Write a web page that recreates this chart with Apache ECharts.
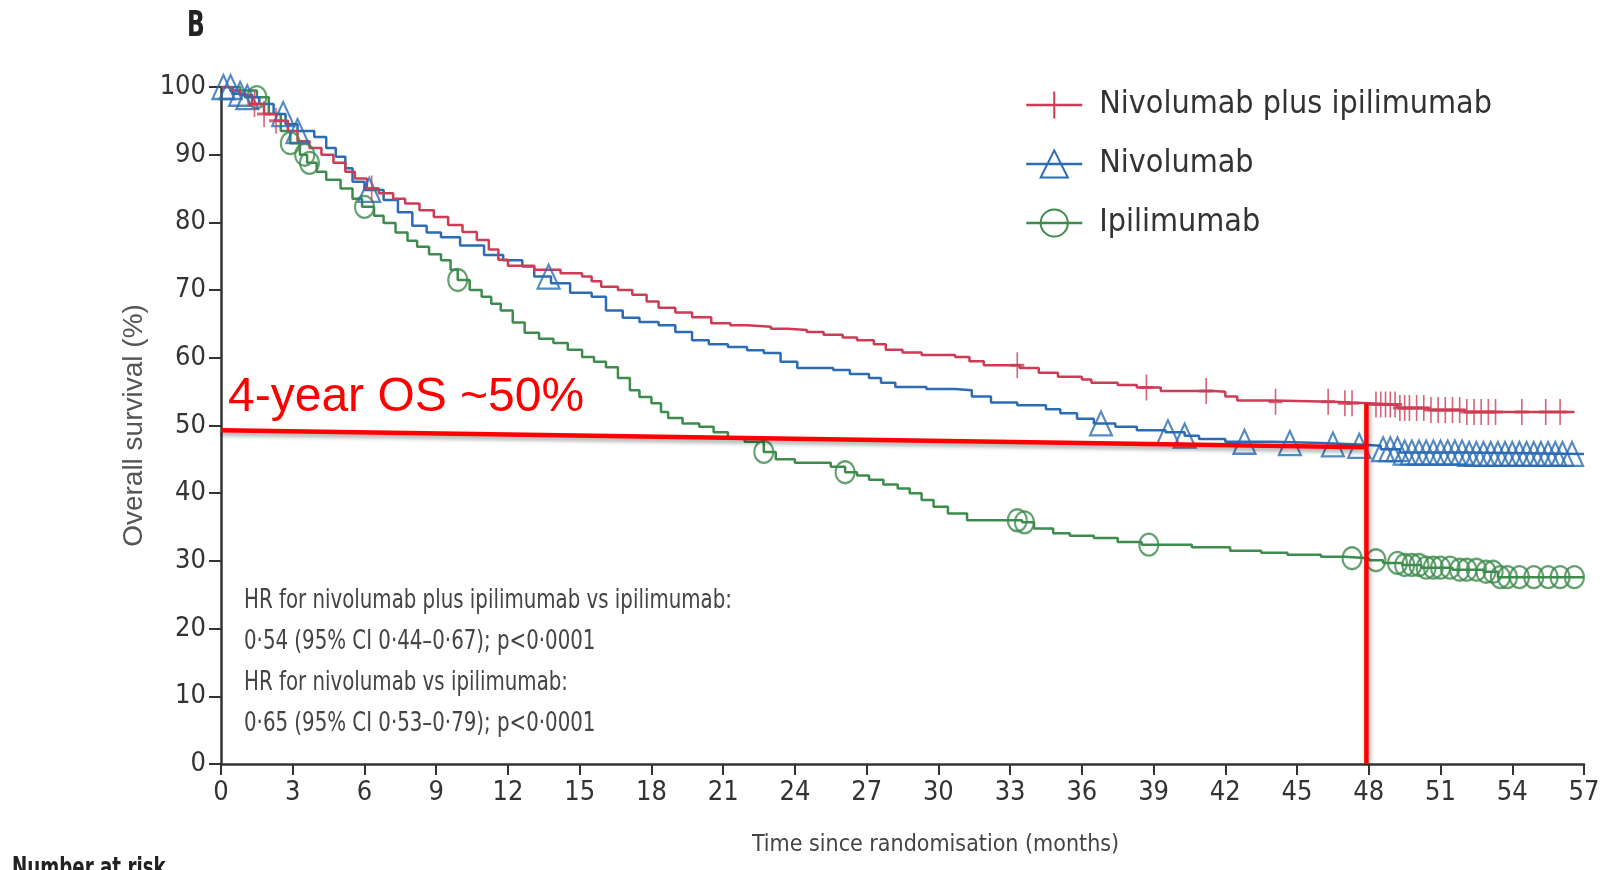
<!DOCTYPE html>
<html>
<head>
<meta charset="utf-8">
<script src="https://cdn.jsdelivr.net/npm/echarts@6/dist/echarts.min.js"></script>
<style>
  html, body { margin: 0; padding: 0; background: #fff; }
  #chart { width: 1608px; height: 870px; }
</style>
</head>
<body>
<div id="chart"></div>
<script>
// 生存曲线数据 [月, %]
const nivoIpi = [
  [0, 100], [0.4, 99.5], [0.8, 98.8], [1.3, 97.5], [1.8, 96], [2.3, 95], [2.8, 93.5], [3.2, 92],
  [3.7, 91], [4.2, 90], [4.7, 88.8], [5.2, 87.5], [5.6, 86.5], [6.1, 85], [6.6, 84.3], [7.2, 83.5],
  [7.7, 82.8], [8.3, 81.8], [8.9, 80.8], [9.5, 79.6], [10.1, 78.6], [10.7, 77.4], [11.2, 76],
  [11.6, 74.5], [12, 73.6], [13.1, 73], [14.2, 72.5], [15.1, 72], [15.5, 71.3], [15.9, 70.5],
  [16.6, 70], [17.2, 69.3], [17.8, 68.3], [18.3, 67.4], [19, 66.7], [19.7, 66], [20.5, 65.1],
  [21.3, 64.8], [22, 64.6], [23, 64.3], [23.7, 64.1], [24.5, 63.8], [25.2, 63.4], [26, 63],
  [26.6, 62.6], [27.3, 62], [27.8, 61.2], [28.5, 60.8], [29.3, 60.4], [30.7, 60.1], [31.3, 59.5],
  [31.9, 58.9], [33.4, 58.5], [34.2, 57.8], [35, 57.2], [36, 56.8], [36.4, 56.3], [37.5, 56],
  [38.3, 55.6], [39.3, 55.1], [41.5, 55], [42, 54.3], [42.5, 53.7], [44, 53.5], [46.5, 53.3],
  [48, 53.1], [49.2, 52.6], [50.5, 52.3], [52, 52], [56.6, 52]
];
const nivo = [
  [0, 100], [0.5, 99], [1, 98.5], [1.6, 97.5], [2.2, 96], [2.7, 94.5], [3.2, 93.5], [3.9, 92.6],
  [4.4, 91], [4.8, 89.7], [5.2, 88], [5.5, 86], [6, 84.8], [6.8, 83.3], [7.4, 81.5], [8, 79.5],
  [8.6, 78.5], [9.2, 77.8], [10, 76.6], [11, 75.2], [11.8, 74.4], [12.6, 73.5], [13.1, 72],
  [13.8, 71], [14.6, 69.6], [15.5, 69], [16.1, 67], [16.8, 65.9], [17.5, 65.3], [18.3, 64.8],
  [19, 63.8], [19.7, 62.6], [20.4, 62], [21.2, 61.6], [22, 61.1], [22.7, 60.7], [23.4, 59.4],
  [24.1, 58.5], [25.6, 58.2], [26.3, 57.6], [27.1, 57], [27.6, 56.3], [28.2, 55.7], [29.5, 55.4],
  [30.7, 55.2], [31.4, 54.3], [32.2, 53.4], [33.3, 53], [34.5, 52.4], [35.1, 51.8], [35.8, 51],
  [36.5, 50.3], [37.4, 49.8], [38.3, 49.3], [39.5, 49], [40.3, 48.5], [40.9, 48], [42, 47.6],
  [44, 47.4], [46, 47.2], [47.6, 47], [48.5, 46.5], [49.3, 46], [52, 45.8], [57, 45.8]
];
const ipi = [
  [0, 100], [0.8, 99.5], [1.5, 98.5], [2, 96], [2.5, 93.5], [2.9, 91.7], [3.3, 90], [3.6, 88.8],
  [4, 87.5], [4.4, 86.3], [5, 85], [5.5, 83.5], [5.9, 82.3], [6.4, 81], [6.8, 79.9], [7.3, 78.5],
  [7.8, 77.3], [8.2, 76.4], [8.7, 75.3], [9.2, 74.4], [9.6, 73], [9.9, 71.5], [10.4, 70],
  [10.9, 69], [11.3, 68], [11.7, 67], [12.2, 65.2], [12.7, 63.7], [13.3, 62.8], [13.9, 62.2],
  [14.5, 61.2], [15.1, 60.1], [15.6, 59.4], [16.1, 58.6], [16.6, 57], [17.1, 55.2], [17.5, 54.2],
  [18, 53.3], [18.4, 52], [18.7, 51.1], [19.3, 50.3], [20, 49.8], [20.6, 49], [21.2, 48.2],
  [21.9, 47.6], [22.7, 46.1], [23.2, 45], [24, 44.5], [25.5, 43.9], [26.1, 43.1], [26.6, 42.6],
  [27.1, 42], [27.7, 41.3], [28.3, 40.7], [28.8, 40], [29.3, 39], [29.8, 38], [30.4, 37],
  [31.2, 36], [33.5, 35.7], [34, 34.8], [34.8, 34.1], [35.5, 33.7], [36.5, 33.4], [37.5, 32.8],
  [38.5, 32.4], [40.6, 32], [42.2, 31.5], [43.5, 31.2], [44.6, 30.9], [46, 30.6], [47, 30.4],
  [48, 30.1], [48.6, 29.7], [49.4, 29.4], [50.2, 29], [51.5, 28.7], [52.8, 28.4], [53.4, 27.6],
  [57, 27.5]
];

// 删失时间（月）
const nivoIpiCensor = [1.4, 1.8, 2.3, 6.3, 33.3, 38.7, 41.2, 44.1, 46.3, 47.0, 47.3, 48.3, 48.5,
  48.7, 48.9, 49.1, 49.3, 49.5, 49.7, 50.0, 50.3, 50.6, 50.9, 51.2, 51.5, 51.8, 52.1, 52.4, 52.7,
  53.0, 53.3, 54.4, 55.4, 56.0];
const nivoCensor = [0.1, 0.4, 0.8, 1.1, 2.6, 3.2, 6.2, 13.7, 36.8, 39.6, 40.3, 42.8, 44.7, 46.5,
  47.6, 48.6, 48.9, 49.2, 49.5, 49.8, 50.1, 50.4, 50.7, 51.0, 51.3, 51.6, 51.9, 52.2, 52.5, 52.8,
  53.1, 53.4, 53.7, 54.0, 54.3, 54.6, 54.9, 55.2, 55.5, 55.8, 56.1, 56.5];
const ipiCensor = [1.5, 2.9, 3.5, 3.7, 6.0, 9.9, 22.7, 26.1, 33.3, 33.6, 38.8, 47.3, 48.3, 49.2,
  49.5, 49.8, 50.1, 50.4, 50.7, 51.0, 51.4, 51.8, 52.1, 52.5, 52.9, 53.2, 53.5, 53.8, 54.3, 54.9,
  55.5, 56.0, 56.6];

// 红色标注线
const osLine = [[0, 49.3], [47.9, 46.8]];
const yearLine = [[47.9, 53.2], [47.9, 0]];

const xTicks = { min: 0, max: 57, interval: 3 };
const yTicks = { min: 0, max: 100, interval: 10 };

const names = ["Nivolumab plus ipilimumab", "Nivolumab", "Ipilimumab"];
const colors = ["#cc3d55", "#2b6cb3", "#3d8b4d"];

const narrow = "'DejaVu Sans Condensed', 'Liberation Sans Narrow', sans-serif";

const plusSym = "path://M5,0V20M0,10H10";

const atTime = (curve, t) => {
  let y = curve[0][1];
  for (const p of curve) {
    if (p[0] <= t) y = p[1];
    else break;
  }
  return y;
};

const kmLine = (name, data, color, symbol) => ({
  name,
  type: "line",
  step: "end",
  data,
  symbol,
  showSymbol: false,
  lineStyle: { color, width: 2.5 },
  itemStyle: { color: "transparent", borderColor: color, borderWidth: 2 },
  z: 3,
});

const censorMarks = (name, curve, times, color, symbol, size) => ({
  name,
  type: "scatter",
  data: times.map((t) => [t, atTime(curve, t)]),
  symbol,
  symbolSize: size,
  itemStyle: { color: "transparent", borderColor: color, borderWidth: 2.2 },
  z: 4,
});

// 压窄的文字（原图字体较窄）
const narrowText = (x, y, text, font, fill, sx, extra) => ({
  type: "text",
  x, y,
  scaleX: sx,
  style: Object.assign({ text, font, fill, textVerticalAlign: "top" }, extra || {}),
  z: 20,
});

const chart = echarts.init(document.getElementById("chart"));

const option = {
  animation: false,
  backgroundColor: "#fff",
  grid: { left: 221, right: 24, top: 87, bottom: 106 },
  legend: {
    orient: "vertical",
    left: 1020,
    top: 83,
    itemWidth: 56,
    itemHeight: 34,
    itemGap: 25,
    textStyle: { fontFamily: narrow, fontSize: 32, lineHeight: 34, color: "#333", padding: [0, 0, 0, 12] },
    data: names.map((n, i) => ({
      name: n,
      itemStyle: { color: "transparent", borderColor: colors[i], borderWidth: 2 },
      lineStyle: { color: colors[i], width: 2.5 },
    })),
  },
  xAxis: {
    type: "value",
    ...xTicks,
    name: "Time since randomisation (months)",
    nameLocation: "middle",
    nameGap: 70,
    nameTextStyle: { fontFamily: narrow, fontSize: 23, color: "#444", padding: [0, 0, 0, 66] },
    axisLine: { show: true, onZero: false, lineStyle: { color: "#333", width: 2.5 } },
    axisTick: { show: true, length: 11, lineStyle: { color: "#333", width: 2 } },
    axisLabel: { fontFamily: narrow, fontSize: 27, color: "#333", margin: 15 },
    splitLine: { show: false },
  },
  yAxis: {
    type: "value",
    ...yTicks,
    name: "Overall survival (%)",
    nameLocation: "middle",
    nameGap: 73,
    nameTextStyle: { fontFamily: "'Liberation Sans', sans-serif", fontSize: 28, color: "#555" },
    axisLine: { show: true, onZero: false, lineStyle: { color: "#333", width: 2.5 } },
    axisTick: { show: true, length: 12, lineStyle: { color: "#333", width: 2 } },
    axisLabel: { fontFamily: narrow, fontSize: 27, color: "#333", margin: 15 },
    splitLine: { show: false },
  },
  series: [
    kmLine(names[2], ipi, colors[2], "circle"),
    kmLine(names[1], nivo, colors[1], "triangle"),
    kmLine(names[0], nivoIpi, colors[0], plusSym),
    censorMarks(names[2], ipi, ipiCensor, colors[2], "circle", [19, 22]),
    censorMarks(names[1], nivo, nivoCensor, colors[1], "triangle", [22, 24]),
    censorMarks(names[0], nivoIpi, nivoIpiCensor, colors[0], plusSym, [14, 26]),
    {
      type: "line",
      data: osLine,
      symbol: "none",
      lineStyle: {
        color: "#ff0000", width: 4.5,
        shadowColor: "rgba(0,0,0,0.35)", shadowBlur: 4, shadowOffsetY: 3,
      },
      z: 10,
    },
    {
      type: "line",
      data: yearLine,
      symbol: "none",
      lineStyle: {
        color: "#ff0000", width: 4.5,
        shadowColor: "rgba(0,0,0,0.3)", shadowBlur: 4, shadowOffsetX: 2,
      },
      z: 10,
    },
  ],
  graphic: [
    narrowText(187, 9, "B", "bold 36px " + narrow, "#222", 0.72),
    {
      type: "text", x: 228, y: 374,
      style: {
        text: "4-year OS ~50%", font: "48px 'Liberation Sans', Arial, sans-serif",
        fill: "#ff0000", textVerticalAlign: "top",
      },
      z: 20,
    },
    narrowText(244, 580,
      "HR for nivolumab plus ipilimumab vs ipilimumab:\n0·54 (95% CI 0·44–0·67); p<0·0001\nHR for nivolumab vs ipilimumab:\n0·65 (95% CI 0·53–0·79); p<0·0001",
      "27px " + narrow, "#444", 0.815, { lineHeight: 41 }),
    narrowText(12, 856, "Number at risk", "bold 26px " + narrow, "#222", 0.78),
  ],
};

chart.setOption(option);

window.addEventListener("resize", () => {
  chart.resize();
});
</script>
</body>
</html>
